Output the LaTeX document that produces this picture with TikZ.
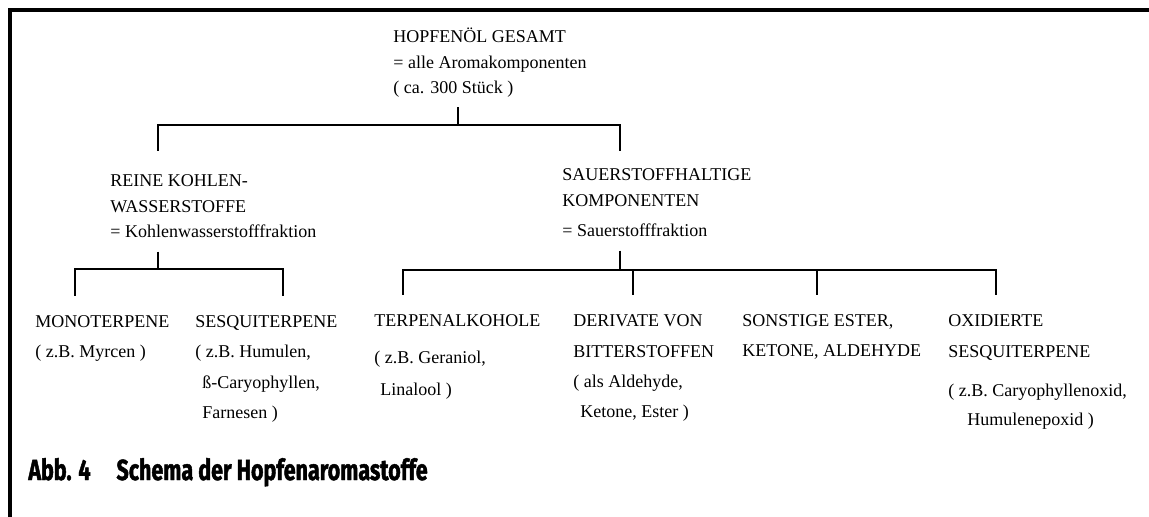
\documentclass[tikz,border=0pt]{standalone}
\usepackage{fontspec}
\setmainfont{Liberation Serif}
\newfontfamily\capfont[FakeStretch=0.74,BoldFeatures={FakeBold=1.5}]{Fira Sans}

\tikzset{
  branch/.style={line width=1pt},
  lbl/.style={anchor=base west, align=left, inner sep=0pt, font=\fontsize{9}{12.75}\selectfont},
  leaf/.style={lbl, font=\fontsize{9}{15}\selectfont},
}

\begin{document}
\begin{tikzpicture}[line cap=butt,line join=miter,x=0.5pt,y=-0.5pt]
  \useasboundingbox (0,0) rectangle (1149,517);

  % frame
  \draw[line width=2pt] (10,517) -- (10,10) -- (1149,10);

  % levels of the scheme (placed at the baseline of their last line)
  \node[lbl] (oil) at (393,94) {HOPFENÖL GESAMT\\= alle Aromakomponenten\\( ca. 300 Stück )};

  \node[lbl] (kw) at (110,238) {REINE KOHLEN-\\WASSERSTOFFE\\= Kohlenwasserstofffraktion};
  \node[lbl] (ox) at (562,237) {SAUERSTOFFHALTIGE\\KOMPONENTEN\\[2.5pt]= Sauerstofffraktion};

  \node[leaf] (mono) at (35,358) {MONOTERPENE\\( z.B. Myrcen )};
  \node[leaf] (sesq) at (195,418) {SESQUITERPENE\\( z.B. Humulen,\\\hspace*{3.5pt}ß-Caryophyllen,\\\hspace*{3.5pt}Farnesen )};
  \node[leaf] (alk) at (374,395) {TERPENALKOHOLE\\[3pt]( z.B. Geraniol,\\[1pt]\hspace*{3pt}Linalool )};
  \node[leaf] (bit) at (573,417) {DERIVATE VON\\BITTERSTOFFEN\\( als Aldehyde,\\\hspace*{3.5pt}Ketone, Ester )};
  \node[leaf] (est) at (742,357) {SONSTIGE ESTER,\\KETONE, ALDEHYDE};
  \node[leaf] (oxs) at (948,425) {OXIDIERTE\\SESQUITERPENE\\[5pt]( z.B. Caryophyllenoxid,\\[-1pt]\hspace*{9.5pt}Humulenepoxid )};

  \node[anchor=base west, inner sep=0pt, font=\capfont\bfseries\fontsize{14.5}{16}\selectfont] (cap) at (28,480)
    {Abb. 4\hspace{13pt}Schema der Hopfenaromastoffe};

  % junctions
  \coordinate (j0) at (458,125);
  \coordinate (j1) at (158,269);
  \coordinate (j2) at (620,270);

  \coordinate (kw-in)   at ([xshift=24pt]kw.north west);
  \coordinate (ox-in)   at ([xshift=29pt]ox.north west);
  \coordinate (mono-in) at ([xshift=20pt]mono.north west);
  \coordinate (sesq-in) at ([xshift=44pt]sesq.north west);
  \coordinate (alk-in)  at ([xshift=14.5pt]alk.north west);
  \coordinate (bit-in)  at ([xshift=30pt]bit.north west);
  \coordinate (est-in)  at ([xshift=37.5pt]est.north west);
  \coordinate (oxs-in)  at ([xshift=24pt]oxs.north west);

  % brackets
  \draw[branch,shorten <=4.5pt] (oil.south -| j0) -- (j0);
  \draw[branch,shorten <=12pt,shorten >=9pt] (kw-in) |- (j0) -| (ox-in);

  \draw[branch,shorten <=6.5pt] (kw.south -| j1) -- (j1);
  \draw[branch,shorten <=10pt,shorten >=10pt] (mono-in) |- (j1) -| (sesq-in);

  \draw[branch,shorten <=6.5pt] (ox.south -| j2) -- (j2);
  \draw[branch,shorten <=10pt,shorten >=10pt] (alk-in) |- (j2) -| (oxs-in);
  \draw[branch,shorten <=10pt] (bit-in) -- (bit-in |- j2);
  \draw[branch,shorten <=10pt] (est-in) -- (est-in |- j2);
\end{tikzpicture}
\end{document}
